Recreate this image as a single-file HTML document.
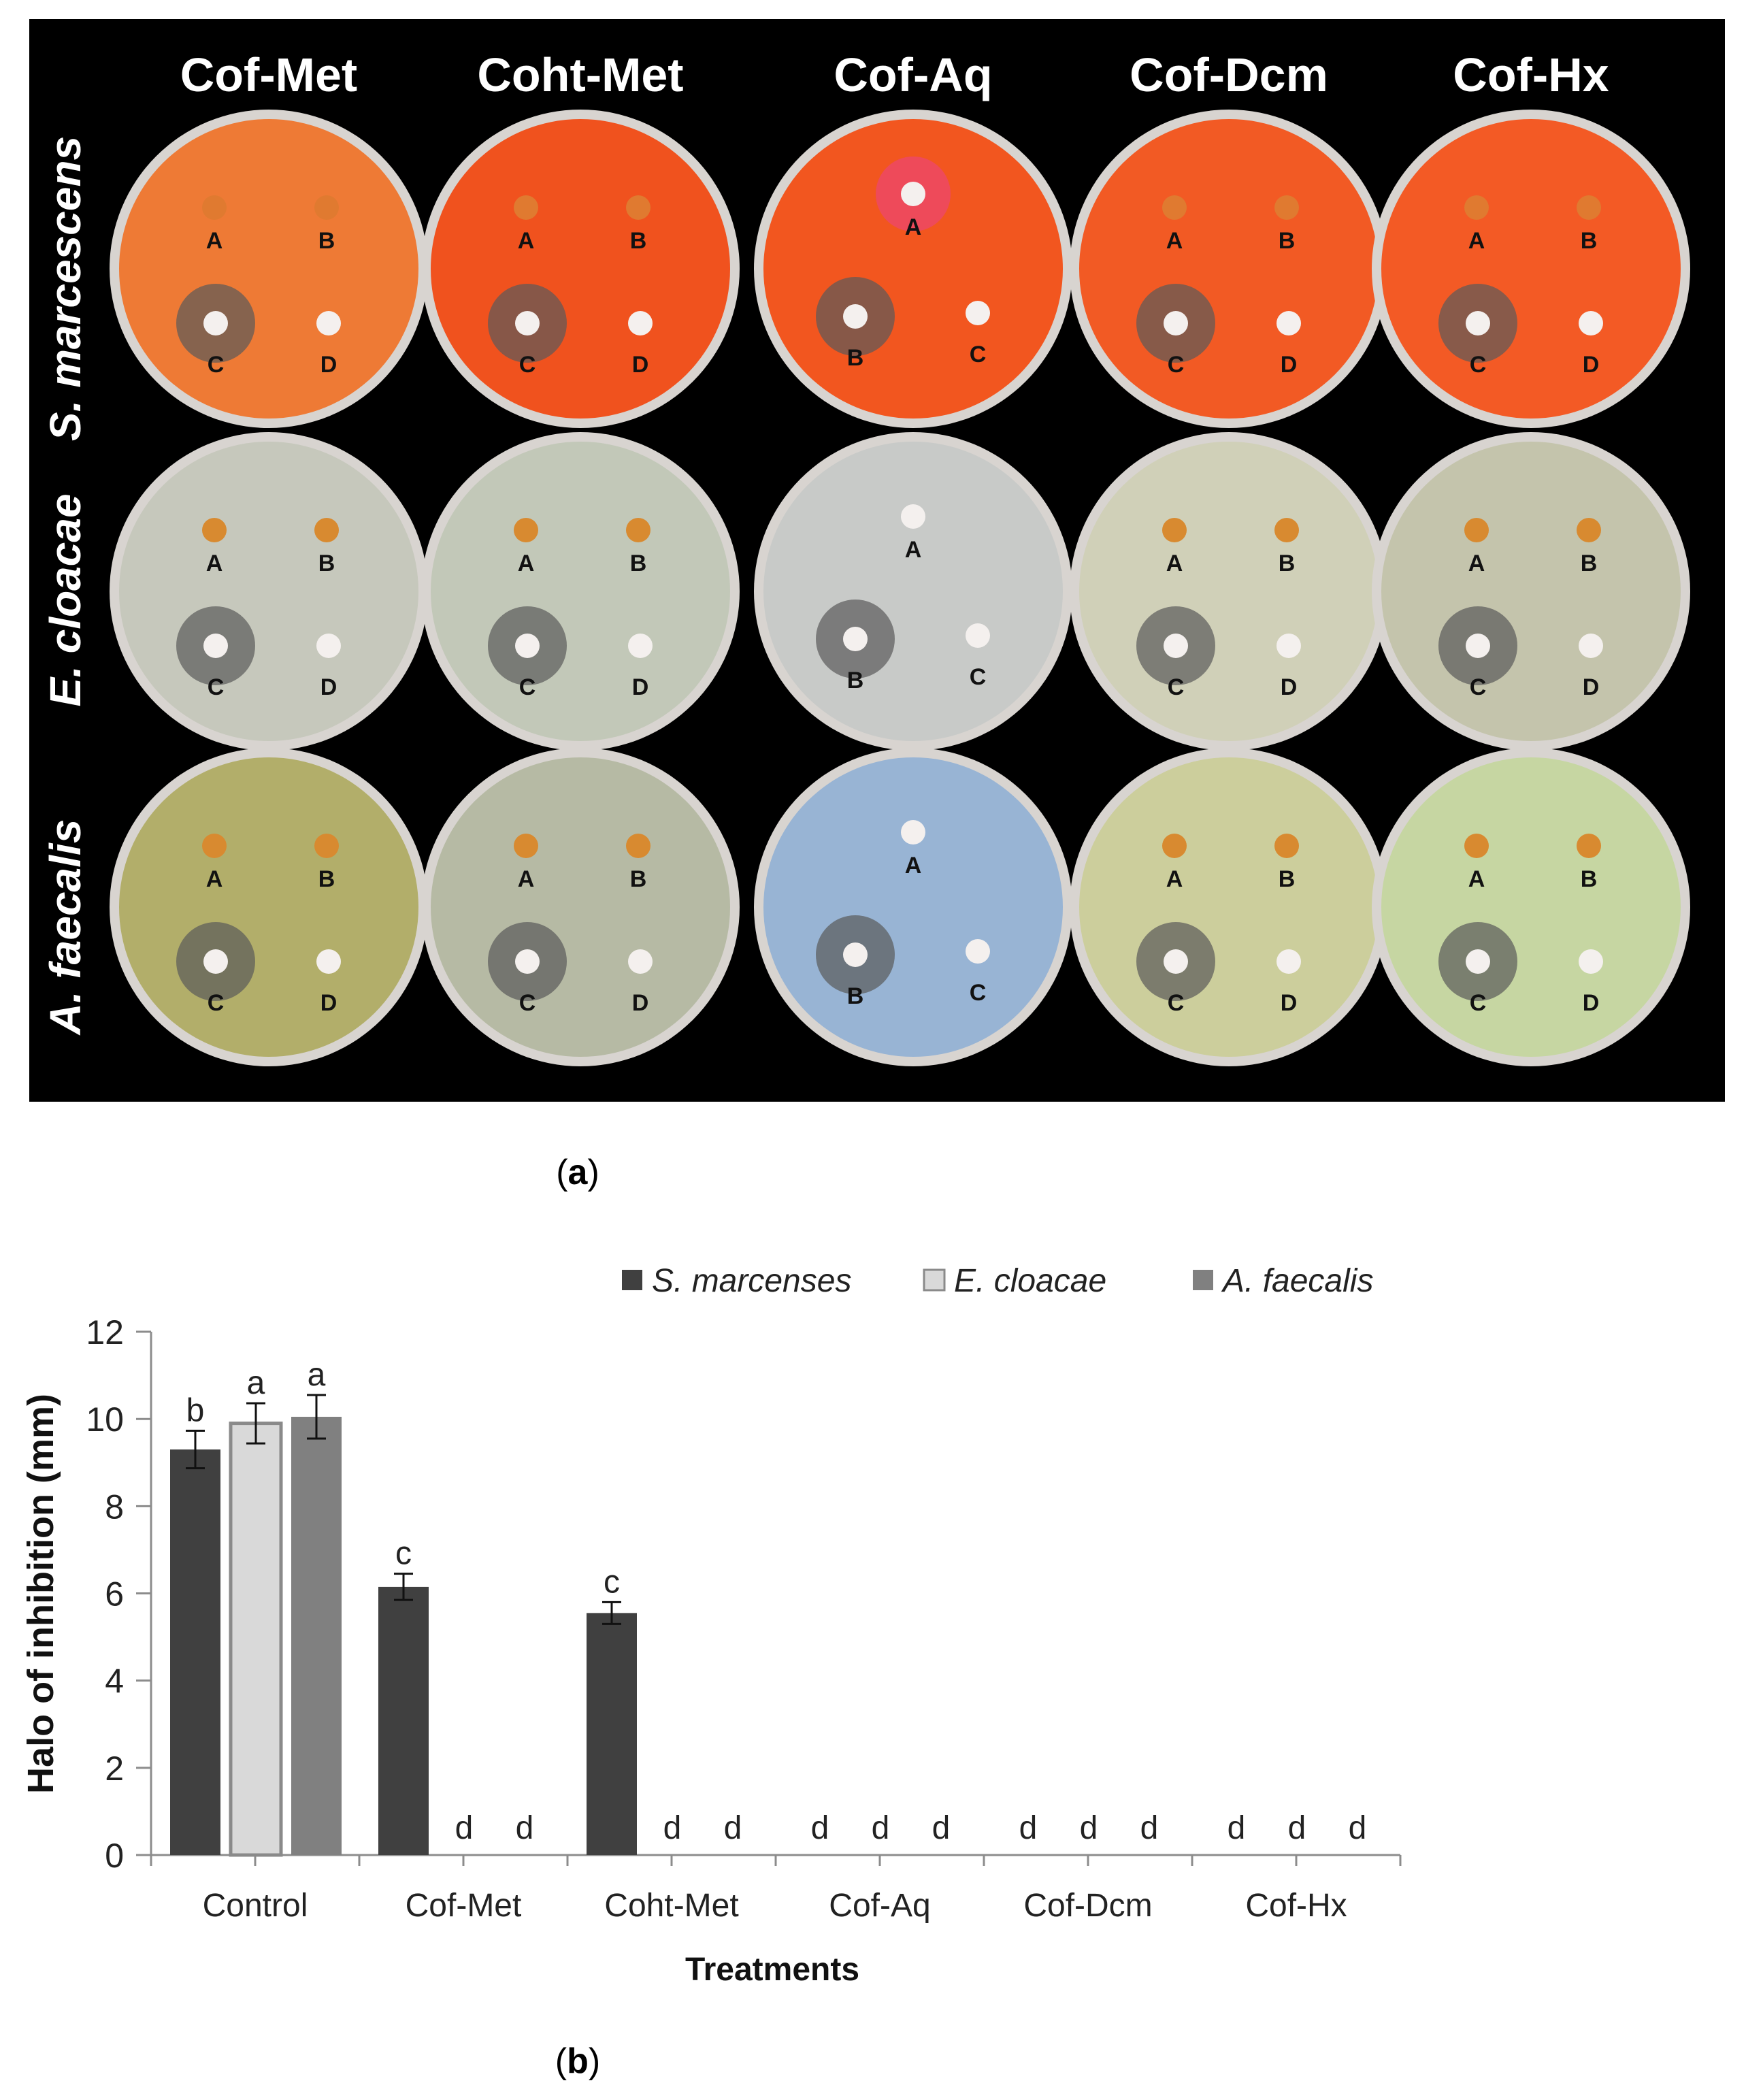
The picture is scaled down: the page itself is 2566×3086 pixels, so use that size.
<!DOCTYPE html>
<html><head><meta charset="utf-8">
<style>
html,body{margin:0;padding:0;background:#fff;}
svg{display:block;}
text{font-family:"Liberation Sans",sans-serif;}
</style></head>
<body>
<svg id="fig" width="2566" height="3086" viewBox="0 0 2566 3086" xmlns="http://www.w3.org/2000/svg">
<g id="panelA">
<rect x="43" y="28" width="2492" height="1591" fill="#000"/>
</g>
<text x="849" y="1740" font-family="Liberation Serif,serif" font-size="52" text-anchor="middle">(<tspan font-weight="bold">a</tspan>)</text>
<g id="chart"></g>
<text x="849" y="3046" font-family="Liberation Serif,serif" font-size="52" text-anchor="middle">(<tspan font-weight="bold">b</tspan>)</text>
</svg>
<script>
const NS="http://www.w3.org/2000/svg";
// ---- chart data ----
const categories=["Control","Cof-Met","Coht-Met","Cof-Aq","Cof-Dcm","Cof-Hx"];
const seriesNames=["S. marcenses","E. cloacae","A. faecalis"];
const sMarcenses=[9.3,6.15,5.55,0,0,0];
const eCloacae=[9.9,0,0,0,0,0];
const aFaecalis=[10.05,0,0,0,0,0];
const errS=[0.43,0.3,0.25,0,0,0];
const errE=[0.46,0,0,0,0,0];
const errA=[0.5,0,0,0,0,0];
const lettersS=["b","c","c","d","d","d"];
const lettersE=["a","d","d","d","d","d"];
const lettersA=["a","d","d","d","d","d"];
const yTicks=[0,2,4,6,8,10,12];

function mk(tag,attrs,parent,txt){const e=document.createElementNS(NS,tag);for(const k in attrs)e.setAttribute(k,attrs[k]);if(txt!==undefined)e.textContent=txt;parent.appendChild(e);return e;}

// ---- panel a plates ----
const pa=document.getElementById('panelA');
const colTitles=["Cof-Met","Coht-Met","Cof-Aq","Cof-Dcm","Cof-Hx"];
const colX=[395,853,1342,1806,2250];
const rowY=[395,869,1333];
const rowTitles=["S. marcescens","E. cloacae","A. faecalis"];
const plateFill=[
 ["#ee7a35","#f0521e","#f2561f","#f25a24","#f35a25"],
 ["#c6c8bc","#c2c8b8","#c8cac8","#d0d0b8","#c4c4ac"],
 ["#b2ae6a","#b6baa4","#98b4d4","#ccce9c","#c6d6a2"]];
colTitles.forEach((t,i)=>{
 const e=mk('text',{x:colX[i],y:134,fill:'#fff','font-size':70,'font-weight':'bold','text-anchor':'middle'},pa,t);
 
 
});
rowTitles.forEach((t,i)=>{
 const e=mk('text',{x:0,y:0,fill:'#fff','font-size':64,'font-weight':'bold','font-style':'italic','text-anchor':'middle',transform:`translate(118,${[424,882,1362][i]}) rotate(-90)`},pa,t);
 
 
});
for(let r=0;r<3;r++)for(let c=0;c<5;c++){
 const cx=colX[c],cy=rowY[r];
 const g=mk('g',{},pa);
 
 
 mk('circle',{cx,cy,r:234,fill:'#d8d4d0'},g);
 mk('circle',{cx,cy,r:220,fill:plateFill[r][c]},g);
 let wells;
 if(c===2) wells=[["A",0,-110,false],["B",-85,70,true],["C",95,65,false]];
 else wells=[["A",-80,-90,false],["B",85,-90,false],["C",-78,80,true],["D",88,80,false]];
 wells.forEach(w=>{
  const wx=cx+w[1],wy=cy+w[2];
  if(w[3]) mk('circle',{cx:wx,cy:wy,r:58,fill:'#5a5a5a','fill-opacity':0.7},g);
  if(c===2&&r===0&&w[0]==="A") mk('circle',{cx:wx,cy:wy,r:55,fill:'#ee4a5a'},g);
  const wf=(w[0]==="C"||w[0]==="D"||c===2)?'#f4f0ee':(r===0?'#e07a30':'#d88a30');
  mk('circle',{cx:wx,cy:wy,r:18,fill:wf},g);
  mk('text',{x:wx,y:wy+(w[2]<0?60:72),'font-size':34,'font-weight':'bold','text-anchor':'middle',fill:'#111'},g,w[0]);
 });
}

// ---- chart ----
const ch=document.getElementById('chart');
const X0=222, GW=306, Y0=2726, PX=64.08;
const xAxis=(g,i)=>X0+g*GW+28+i*89;
const yAxis=v=>Y0-v*PX;
let ax=mk('line',{x1:X0,y1:yAxis(12),x2:X0,y2:Y0,stroke:'#8c8c8c','stroke-width':3},ch);

yTicks.forEach(t=>{
 mk('line',{x1:X0-22,y1:yAxis(t),x2:X0,y2:yAxis(t),stroke:'#8c8c8c','stroke-width':3},ch);
 const e=mk('text',{x:X0-40,y:yAxis(t)+18,'font-size':50,'text-anchor':'end',fill:'#222'},ch,String(t));
 
});
let xa=mk('line',{x1:X0,y1:Y0,x2:X0+categories.length*GW,y2:Y0,stroke:'#8c8c8c','stroke-width':3},ch);

for(let k=0;k<=categories.length*2;k++){
 mk('line',{x1:X0+k*GW/2,y1:Y0,x2:X0+k*GW/2,y2:Y0+16,stroke:'#8c8c8c','stroke-width':3},ch);
}
categories.forEach((c,g)=>{
 const e=mk('text',{x:X0+g*GW+GW/2,y:2816,'font-size':48,'text-anchor':'middle',fill:'#222'},ch,c);
 
});
const series=[sMarcenses,eCloacae,aFaecalis], errs=[errS,errE,errA], lets=[lettersS,lettersE,lettersA];
const fills=['#404040','#d9d9d9','#808080'];
series.forEach((vals,i)=>{
 vals.forEach((v,g)=>{
  const x=xAxis(g,i), w=74;
  if(v>0){
   const b=mk('rect',{x:x,y:yAxis(v),width:w,height:Y0-yAxis(v),fill:fills[i],stroke:i===1?'#8a8a8a':'none','stroke-width':i===1?5:0},ch);
   
   
   const e=errs[i][g], cxm=x+w/2;
   mk('line',{x1:cxm,y1:yAxis(v+e),x2:cxm,y2:yAxis(v-e),stroke:'#111','stroke-width':3},ch);
   mk('line',{x1:cxm-14,y1:yAxis(v+e),x2:cxm+14,y2:yAxis(v+e),stroke:'#111','stroke-width':3},ch);
   mk('line',{x1:cxm-14,y1:yAxis(v-e),x2:cxm+14,y2:yAxis(v-e),stroke:'#111','stroke-width':3},ch);
  }
  const top=v>0?yAxis(v+errs[i][g])-14:Y0-24;
  const l=mk('text',{x:x+w/2,y:top,'font-size':48,'text-anchor':'middle',fill:'#222'},ch,lets[i][g]);
  
  
 });
});
let yt=mk('text',{x:0,y:0,'font-size':54,'font-weight':'bold','text-anchor':'middle',fill:'#111',transform:'translate(78,2342) rotate(-90)'},ch,'Halo of inhibition (mm)');

let xt=mk('text',{x:1135,y:2910,'font-size':48,'font-weight':'bold','text-anchor':'middle',fill:'#111'},ch,'Treatments');

const legX=[914,1358,1753];
seriesNames.forEach((n,i)=>{
 const g=mk('g',{},ch);
 
 
 mk('rect',{x:legX[i],y:1866,width:30,height:30,fill:fills[i],stroke:i===1?'#8a8a8a':'none','stroke-width':3},g);
 mk('text',{x:legX[i]+44,y:1898,'font-size':48,'font-style':'italic',fill:'#222'},g,n);
});
</script>
</body></html>
